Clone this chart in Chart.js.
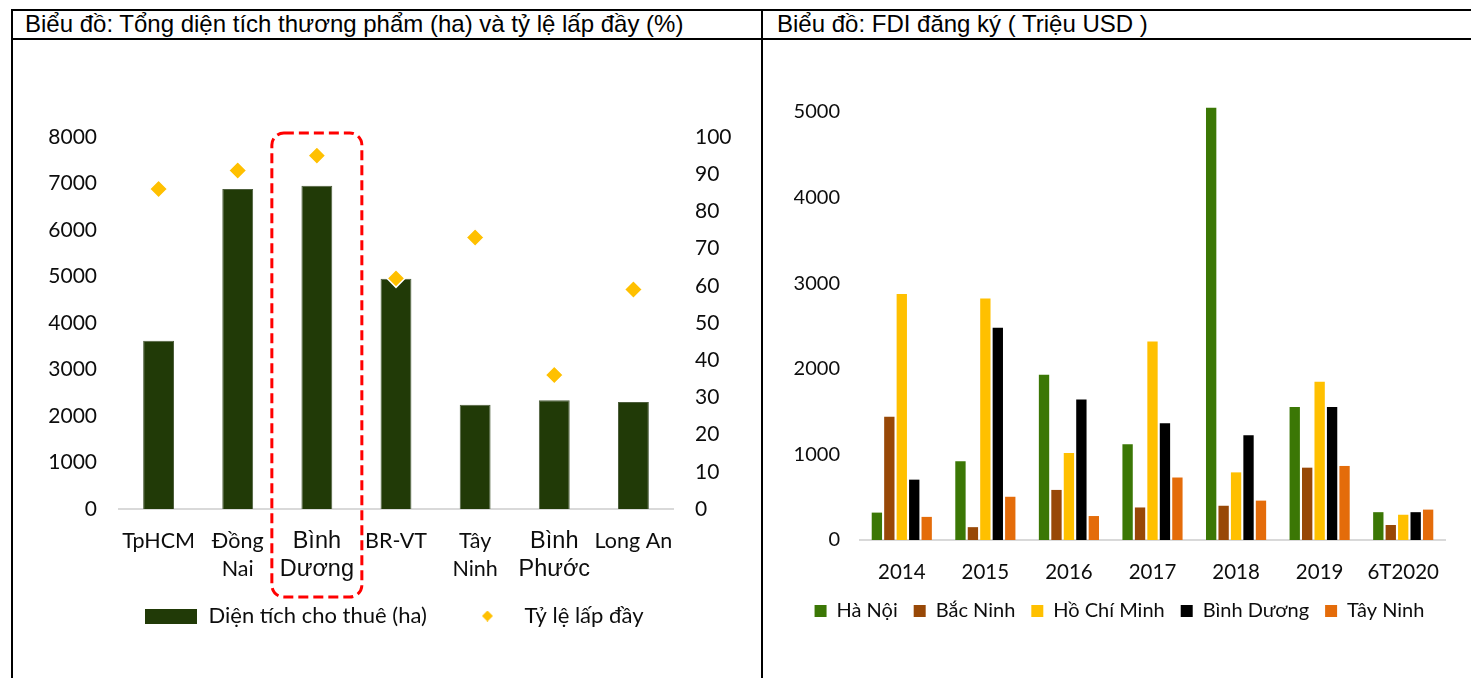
<!DOCTYPE html>
<html>
<head>
<meta charset="utf-8">
<script src="https://cdn.jsdelivr.net/npm/chart.js@4.4.1/dist/chart.umd.min.js"></script>
<style>
  html, body { margin: 0; padding: 0; background: #fff; }
  body { width: 1471px; height: 678px; position: relative; overflow: hidden; }
  .rule { position: absolute; background: #000; }
  .title {
    position: absolute; top: 10px; line-height: 28px;
    font-family: 'Liberation Sans', Arial, sans-serif;
    font-size: 24px; color: #000; white-space: nowrap;
  }
  .panel { position: absolute; top: 41px; height: 637px; }
</style>
</head>
<body>
  <!-- table frame -->
  <div class="rule" style="left:11px; top:9px; width:1460px; height:2px;"></div>
  <div class="rule" style="left:11px; top:38px; width:1460px; height:1.5px;"></div>
  <div class="rule" style="left:11px; top:9px; width:2px; height:669px;"></div>
  <div class="rule" style="left:761px; top:9px; width:2px; height:669px;"></div>

  <div class="title" style="left:25px;">Biểu đồ: Tổng diện tích thương phẩm (ha) và tỷ lệ lấp đầy (%)</div>
  <div class="title" style="left:777px;">Biểu đồ: FDI đăng ký ( Triệu USD )</div>

  <div class="panel" style="left:13px; width:747px;"><canvas id="areaChart"></canvas></div>
  <div class="panel" style="left:764px; width:707px;"><canvas id="fdiChart"></canvas></div>

<script>
  // ── Left chart: area (ha) + fill rate (%) ──────────────────────
  const provinces = ['TpHCM', ['Đồng', 'Nai'], ['Bình', 'Dương'], 'BR-VT', ['Tây', 'Ninh'], ['Bình', 'Phước'], 'Long An'];
  const areaHa    = [3620, 6880, 6950, 4950, 2240, 2340, 2300];
  const fillRate  = [86, 91, 95, 62, 73, 36, 59];
  const areaTicksMax = 8000;
  const rateTicksMax = 100;

  // ── Right chart: registered FDI (million USD) ──────────────────
  const years     = ['2014', '2015', '2016', '2017', '2018', '2019', '6T2020'];
  const haNoi     = [320, 920, 1930, 1120, 5050, 1555, 325];
  const bacNinh   = [1440, 150, 585, 380, 400, 845, 175];
  const hoChiMinh = [2875, 2820, 1015, 2320, 790, 1850, 295];
  const binhDuong = [705, 2480, 1640, 1365, 1225, 1555, 325];
  const tayNinh   = [270, 505, 280, 730, 460, 865, 355];
  const fdiTicksMax = 5000;

  const TEXT = '#0d0d0d';
  const AXIS_LINE = '#d9d9d9';
  const LATO = "'Lato', 'Noto Sans', sans-serif";
  const ARIAL = "'Liberation Sans', Arial, sans-serif";

  // plain numbers, no thousands separator
  const plain = (v) => String(v);

  // legend swatches drawn as small canvases
  function makeSwatch(w, h, draw) {
    const c = document.createElement('canvas');
    c.width = w; c.height = h;
    draw(c.getContext('2d'), w, h);
    return c;
  }
  const barSwatch = makeSwatch(52, 15, (g, w, h) => { g.fillStyle = '#213a07'; g.fillRect(0, 0, w, h); });
  const diamondSwatch = makeSwatch(11, 11, (g, w, h) => {
    g.fillStyle = '#ffc000';
    g.beginPath();
    g.moveTo(w / 2, 0); g.lineTo(w, h / 2); g.lineTo(w / 2, h); g.lineTo(0, h / 2);
    g.closePath(); g.fill();
  });

  // red dashed highlight around "Bình Dương"
  const highlightBox = {
    id: 'highlightBox',
    afterDraw(chart) {
      const { ctx, chartArea, scales } = chart;
      const cx = scales.x.getPixelForValue(2);
      const left = cx - 45, right = cx + 45;
      const top = chartArea.top - 4, bottom = chartArea.bottom + 88;
      ctx.save();
      ctx.strokeStyle = '#ff0000';
      ctx.lineWidth = 3;
      ctx.setLineDash([10, 5]);
      ctx.beginPath();
      ctx.roundRect(left, top, right - left, bottom - top, 12);
      ctx.stroke();
      ctx.restore();
    }
  };

  new Chart(document.getElementById('areaChart'), {
    data: {
      labels: provinces,
      datasets: [
        {
          type: 'bar',
          label: 'Diện tích cho thuê (ha)',
          data: areaHa,
          backgroundColor: '#213a07',
          borderColor: '#4d5e3c',
          borderWidth: 1,
          categoryPercentage: 1,
          barPercentage: 0.39,
          yAxisID: 'y',
          order: 2
        },
        {
          type: 'line',
          label: 'Tỷ lệ lấp đầy',
          data: fillRate,
          showLine: false,
          pointStyle: 'rectRot',
          pointRadius: 9,
          pointHoverRadius: 9,
          pointBackgroundColor: '#ffc000',
          pointBorderColor: '#ffffff',
          pointBorderWidth: 1.5,
          yAxisID: 'y1',
          order: 1
        }
      ]
    },
    options: {
      responsive: true,
      maintainAspectRatio: false,
      animation: false,
      layout: { padding: { top: 96, left: 16, bottom: 41 } },
      scales: {
        x: {
          grid: { display: false, drawTicks: false },
          border: { display: true, color: AXIS_LINE, width: 2 },
          ticks: {
            color: TEXT,
            padding: 18,
            maxRotation: 0,
            autoSkip: false,
            font: (c) => (c.index === 2 || c.index === 5)
              ? { family: ARIAL, size: 23.5, lineHeight: 1.2 }
              : { family: LATO, size: 21.5, lineHeight: 1.3 }
          },
          afterFit: (s) => { s.height = 84; }
        },
        y: {
          position: 'left',
          min: 0, max: areaTicksMax,
          grid: { display: false, drawTicks: false },
          border: { display: false },
          ticks: { stepSize: 1000, color: TEXT, padding: 22, callback: plain, font: { family: LATO, size: 21 } },
          afterFit: (s) => { s.width = 90; }
        },
        y1: {
          position: 'right',
          min: 0, max: rateTicksMax,
          grid: { display: false, drawTicks: false },
          border: { display: false },
          ticks: { stepSize: 10, color: TEXT, padding: 22, callback: plain, font: { family: LATO, size: 21 } },
          afterFit: (s) => { s.width = 87; }
        }
      },
      plugins: {
        legend: {
          position: 'bottom',
          labels: {
            usePointStyle: true,
            pointStyleWidth: 52,
            boxHeight: 15,
            padding: 12,
            color: TEXT,
            font: { family: LATO, size: 22 },
            sort: (a, b) => a.datasetIndex - b.datasetIndex,
            generateLabels(chart) {
              const items = Chart.defaults.plugins.legend.labels.generateLabels(chart);
              items.forEach(it => {
                it.pointStyle = it.datasetIndex === 0 ? barSwatch : diamondSwatch;
                // wider gap after the first item
                if (it.datasetIndex === 0) it.text += '    ';
              });
              return items;
            }
          }
        },
        tooltip: { enabled: false }
      }
    },
    plugins: [highlightBox]
  });

  const fdiSeries = [
    { label: 'Hà Nội',      data: haNoi,     color: '#3b7705' },
    { label: 'Bắc Ninh',    data: bacNinh,   color: '#984807' },
    { label: 'Hồ Chí Minh', data: hoChiMinh, color: '#ffc000' },
    { label: 'Bình Dương',  data: binhDuong, color: '#000000' },
    { label: 'Tây Ninh',    data: tayNinh,   color: '#e46c0a' }
  ];

  new Chart(document.getElementById('fdiChart'), {
    type: 'bar',
    data: {
      labels: years,
      datasets: fdiSeries.map(s => ({
        label: s.label,
        data: s.data,
        backgroundColor: s.color,
        categoryPercentage: 0.745,
        barPercentage: 0.83,
        clip: false   // the 2018 Hà Nội bar pokes just above the 5000 line
      }))
    },
    options: {
      responsive: true,
      maintainAspectRatio: false,
      animation: false,
      layout: { padding: { top: 71, left: 30, right: 26, bottom: 47 } },
      scales: {
        x: {
          grid: { display: false, drawTicks: false },
          border: { display: true, color: AXIS_LINE, width: 2 },
          ticks: { color: TEXT, padding: 20, maxRotation: 0, font: { family: LATO, size: 20.5 } },
          afterFit: (s) => { s.height = 45; }
        },
        y: {
          min: 0, max: fdiTicksMax,
          grid: { display: false, drawTicks: false },
          border: { display: false },
          ticks: { stepSize: 1000, color: TEXT, padding: 20, callback: plain, font: { family: LATO, size: 20 } },
          afterFit: (s) => { s.width = 66; }
        }
      },
      plugins: {
        legend: {
          position: 'bottom',
          labels: {
            boxWidth: 12,
            boxHeight: 12,
            padding: 16,
            color: TEXT,
            font: { family: LATO, size: 20 }
          }
        },
        tooltip: { enabled: false }
      }
    }
  });
</script>
</body>
</html>
